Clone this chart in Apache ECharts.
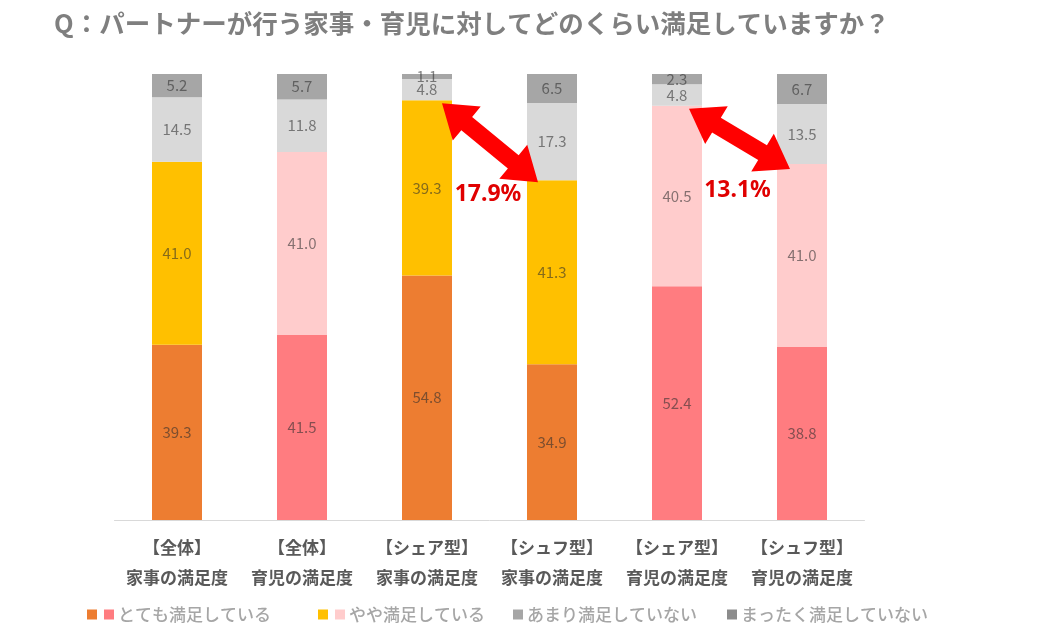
<!DOCTYPE html>
<html>
<head>
<meta charset="utf-8">
<script src="https://cdn.jsdelivr.net/npm/echarts@6/dist/echarts.min.js"></script>
<style>
html,body{margin:0;padding:0;background:#fff;}
#c{width:1040px;height:637px;}
</style>
</head>
<body>
<div id="c"></div>
<script>
// ---- data ----
const titleText = 'Q：パートナーが行う家事・育児に対してどのくらい満足していますか？';
const catTop = ['【全体】', '【全体】', '【シェア型】', '【シュフ型】', '【シェア型】', '【シュフ型】'];
const catBottom = ['家事の満足度', '育児の満足度', '家事の満足度', '家事の満足度', '育児の満足度', '育児の満足度'];
const kind = ['家事', '育児', '家事', '家事', '育児', '育児'];
const seriesNames = ['とても満足している', 'やや満足している', 'あまり満足していない', 'まったく満足していない'];
const veryValues = [39.3, 41.5, 54.8, 34.9, 52.4, 38.8];
const someValues = [41.0, 41.0, 39.3, 41.3, 40.5, 41.0];
const notMuchValues = [14.5, 11.8, 4.8, 17.3, 4.8, 13.5];
const notAtAllValues = [5.2, 5.7, 1.1, 6.5, 2.3, 6.7];
// arrow comparisons: [fromIndex, toIndex]
const comparisons = [[2, 3], [4, 5]];

// ---- styles ----
const colorsVery = { '家事': '#ED7D31', '育児': '#FF7C80' };
const colorsSome = { '家事': '#FFC000', '育児': '#FFCCCC' };
const colorNotMuch = '#D9D9D9';
const colorNotAtAll = '#A6A6A6';
const labelColor = 'rgba(45,45,45,0.58)';
const FONT = '"Noto Sans CJK JP", "Noto Sans", sans-serif';

const categories = catTop.map((t, i) => t + '\n' + catBottom[i]);

function mkData(vals, colorFn) {
  return vals.map((v, i) => ({ value: v, itemStyle: { color: colorFn(i) } }));
}
const barLabel = {
  show: true, position: 'inside', color: labelColor, fontSize: 15,
  fontFamily: FONT, formatter: p => Number(p.value).toFixed(1)
};
const allVals = [veryValues, someValues, notMuchValues, notAtAllValues];
const colorFns = [
  i => colorsVery[kind[i]],
  i => colorsSome[kind[i]],
  i => colorNotMuch,
  i => colorNotAtAll
];
const series = allVals.map((vals, s) => ({
  name: seriesNames[s], type: 'bar', stack: 'total', barWidth: 50,
  data: mkData(vals, colorFns[s]), label: barLabel,
  itemStyle: { color: colorFns[s](0) },
  emphasis: { disabled: true }
}));

const sq = (c) => ({ width: 10, height: 10, backgroundColor: c, verticalAlign: 'middle' });
const legendRich = {
  o: sq('#ED7D31'), p: sq('#FF7C80'), y: sq('#FFC000'), lp: sq('#FFCCCC'),
  g1: sq('#A6A6A6'), g2: sq('#8C8C8C'), s: { width: 7 }, s2: { width: 4 }
};
const legendPrefix = {
  'とても満足している': '{o| }{s| }{p| }{s2| }',
  'やや満足している': '{y| }{s| }{lp| }{s2| }',
  'あまり満足していない': '{g1| }{s2| }',
  'まったく満足していない': '{g2| }{s2| }'
};
const legendLeft = [77, 308, 503, 717];
const legends = seriesNames.map((n, i) => ({
  data: [n], left: legendLeft[i], top: 601, itemWidth: 0, itemHeight: 0, selectedMode: false,
  formatter: name => legendPrefix[name] + name,
  textStyle: { color: '#A6A6A6', fontSize: 17, fontFamily: FONT, fontWeight: 500, rich: legendRich }
}));

const chart = echarts.init(document.getElementById('c'), null, { renderer: 'canvas' });
chart.setOption({
  animation: false,
  backgroundColor: '#fff',
  title: {
    text: titleText, left: 49, top: 6,
    textStyle: { color: '#7F7F7F', fontSize: 25.5, fontWeight: 'bold', fontFamily: FONT }
  },
  legend: legends,
  grid: { left: 114.5, right: 175.5, top: 74, bottom: 117 },
  xAxis: {
    type: 'category', data: categories,
    axisLine: { lineStyle: { color: '#D9D9D9', width: 1 } },
    axisTick: { show: false },
    axisLabel: {
      margin: 13, color: '#595959', fontSize: 17, lineHeight: 30,
      fontFamily: FONT, fontWeight: 'bold', interval: 0
    }
  },
  yAxis: { type: 'value', min: 0, max: 100, show: false, splitLine: { show: false } },
  series: series
});

// ---- arrows (computed through the chart's scales) ----
function arrowPoly(x1, y1, x2, y2, sw, hw, hl) {
  const dx = x2 - x1, dy = y2 - y1, L = Math.hypot(dx, dy);
  const ux = dx / L, uy = dy / L, nx = -uy, ny = ux;
  const P = (t, o) => [x1 + ux * t + nx * o, y1 + uy * t + ny * o];
  return [
    P(0, 0), P(hl, hw / 2), P(hl, sw / 2), P(L - hl, sw / 2), P(L - hl, hw / 2),
    P(L, 0), P(L - hl, -hw / 2), P(L - hl, -sw / 2), P(hl, -sw / 2), P(hl, -hw / 2)
  ];
}
const graphics = [];
comparisons.forEach(([a, b], k) => {
  const topA = veryValues[a] + someValues[a];
  const topB = veryValues[b] + someValues[b];
  const pa = chart.convertToPixel({ seriesIndex: 0 }, [a, topA]);
  const pb = chart.convertToPixel({ seriesIndex: 0 }, [b, topB]);
  const x1 = pa[0] + (k === 0 ? 15 : 12), y1 = pa[1] + 3;
  const x2 = pb[0] - (k === 0 ? 14 : 12), y2 = pb[1] + (k === 0 ? 2 : 5);
  graphics.push({
    type: 'polygon', shape: { points: arrowPoly(x1, y1, x2, y2, 17, 44, 32) },
    style: { fill: '#FF0000' }, z: 100
  });
  graphics.push({
    type: 'text', x: (x1 + x2) / 2 - 2, y: (y1 + y2) / 2 + 52, z: 101,
    style: {
      text: (topA - topB).toFixed(1) + '%', fill: '#E00000', font: 'bold 23px "Noto Sans", sans-serif',
      textAlign: 'center', textVerticalAlign: 'middle'
    }
  });
});
chart.setOption({ graphic: graphics });
</script>
</body>
</html>
